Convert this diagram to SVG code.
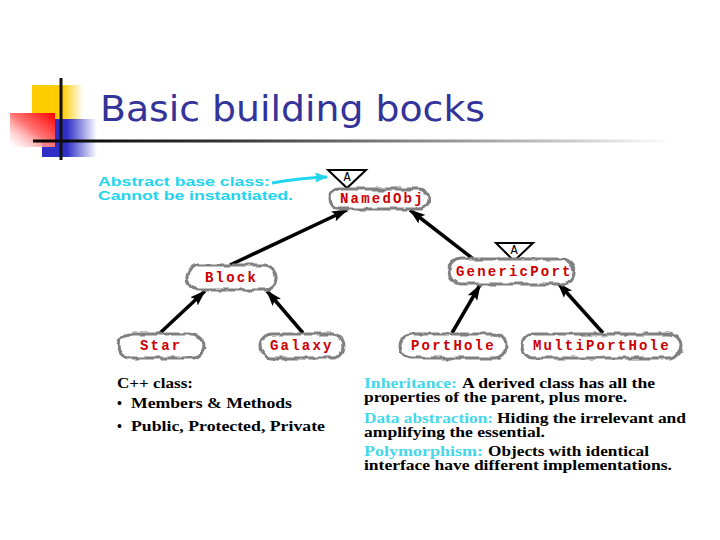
<svg xmlns="http://www.w3.org/2000/svg" width="720" height="540" viewBox="0 0 720 540">
<style>
.blob{fill:#fff;stroke:#808080;stroke-width:3;filter:url(#wob)}
.lbl{font-family:"Liberation Mono","Courier New",monospace;font-weight:bold;font-size:14px;letter-spacing:2.2px;fill:#cc0000}
.tri{fill:#fff;stroke:#000;stroke-width:2}
.tria{font-family:"Liberation Mono",monospace;font-size:12px;fill:#000;text-anchor:middle}
.conn{stroke:#000;stroke-width:3.5;fill:none;marker-end:url(#ah)}
.note{font-family:"Liberation Serif","Times New Roman",serif;font-weight:bold;font-size:14px;fill:#000}
.cy{fill:#44d8ea}
.abs{font-family:"Liberation Sans",Arial,sans-serif;font-weight:bold;font-size:13px;fill:#22d4ee}
</style>
<defs>
<filter id="wob" x="-15%" y="-40%" width="130%" height="180%">
<feTurbulence type="fractalNoise" baseFrequency="0.09" numOctaves="2" seed="4"/>
<feDisplacementMap in="SourceGraphic" scale="5" xChannelSelector="R" yChannelSelector="G"/>
</filter>
<marker id="ah" markerUnits="userSpaceOnUse" markerWidth="17" markerHeight="12" refX="15" refY="6" orient="auto">
<path d="M0,0.5 L16,6 L0,11.5 L3,6 z" fill="#000"/>
</marker>
<marker id="ahc" markerUnits="userSpaceOnUse" markerWidth="14" markerHeight="10" refX="12" refY="5" orient="auto">
<path d="M0,0 L13,5 L0,10 L2,5 z" fill="#22d4ee"/>
</marker>
<linearGradient id="gy" x1="0" y1="0" x2="1" y2="0">
<stop offset="0" stop-color="#ffcc00"/><stop offset="0.6" stop-color="#ffcc00"/><stop offset="1" stop-color="#ffcc00" stop-opacity="0"/>
</linearGradient>
<linearGradient id="gb" x1="0" y1="0" x2="1" y2="0">
<stop offset="0" stop-color="#2f2fc8"/><stop offset="0.45" stop-color="#2f2fc8"/><stop offset="1" stop-color="#2f2fc8" stop-opacity="0"/>
</linearGradient>
<linearGradient id="gr" x1="1" y1="0" x2="0" y2="1">
<stop offset="0" stop-color="#ff0000"/><stop offset="0.5" stop-color="#ff7777"/><stop offset="1" stop-color="#ffffff" stop-opacity="0.4"/>
</linearGradient>
<linearGradient id="gl" gradientUnits="userSpaceOnUse" x1="33" y1="0" x2="670" y2="0">
<stop offset="0" stop-color="#000"/><stop offset="0.3" stop-color="#333"/><stop offset="0.6" stop-color="#888"/><stop offset="0.85" stop-color="#ccc"/><stop offset="1" stop-color="#fff"/>
</linearGradient>
</defs>
<rect width="720" height="540" fill="#fff"/>

<g id="title">
<rect x="32" y="85" width="51" height="35" fill="url(#gy)"/>
<rect x="42" y="119" width="55" height="38" fill="url(#gb)"/>
<rect x="10" y="113" width="45" height="34" fill="url(#gr)"/>
<rect x="33" y="139.5" width="637" height="3" fill="url(#gl)"/>
<rect x="59.5" y="78" width="3" height="82" fill="#111"/>
<text x="100" y="121" font-family="DejaVu Sans, Tahoma, sans-serif" font-size="36" fill="#333399" textLength="385" lengthAdjust="spacingAndGlyphs">Basic building bocks</text>
</g>

<g id="abstract-note">
<text class="abs" x="98" y="186" textLength="172" lengthAdjust="spacingAndGlyphs">Abstract base class:</text>
<text class="abs" x="98" y="200" textLength="195" lengthAdjust="spacingAndGlyphs">Cannot be instantiated.</text>
<path d="M272,183 Q300,178 327,177" stroke="#22d4ee" stroke-width="3" fill="none" marker-end="url(#ahc)"/>
</g>

<g id="connectors">
<line class="conn" x1="230" y1="265" x2="347" y2="210"/>
<line class="conn" x1="472" y1="258" x2="410" y2="210"/>
<line class="conn" x1="160" y1="333" x2="205" y2="291"/>
<line class="conn" x1="303" y1="333" x2="267" y2="291"/>
<line class="conn" x1="452" y1="333" x2="480" y2="285"/>
<line class="conn" x1="603" y1="333" x2="558" y2="283"/>
</g>

<g id="NamedObj">
<path class="tri" d="M328,170 L366,170 L347,188 z"/>
<text class="tria" x="347" y="181">A</text>
<rect class="blob" x="329" y="189" width="100" height="20" rx="10"/>
<text class="lbl" x="340" y="203">NamedObj</text>
</g>

<g id="Block">
<rect class="blob" x="187" y="265" width="89" height="25" rx="12"/>
<text class="lbl" x="205" y="282">Block</text>
</g>

<g id="GenericPort">
<path class="tri" d="M496,243 L533,243 L514,261 z"/>
<text class="tria" x="514" y="254">A</text>
<rect class="blob" x="449" y="259" width="125" height="25" rx="12"/>
<text class="lbl" x="456" y="276">GenericPort</text>
</g>

<g id="Star">
<rect class="blob" x="118" y="334" width="86" height="24" rx="12"/>
<text class="lbl" x="140" y="350">Star</text>
</g>

<g id="Galaxy">
<rect class="blob" x="260" y="334" width="84" height="24" rx="12"/>
<text class="lbl" x="270" y="350">Galaxy</text>
</g>

<g id="PortHole">
<rect class="blob" x="400" y="334" width="106" height="24" rx="12"/>
<text class="lbl" x="411" y="350">PortHole</text>
</g>

<g id="MultiPortHole">
<rect class="blob" x="522" y="334" width="159" height="24" rx="12"/>
<text class="lbl" x="533" y="350">MultiPortHole</text>
</g>

<g id="cpp-note">
<text class="note" x="117" y="388" textLength="76" lengthAdjust="spacingAndGlyphs">C++ class:</text>
<text class="note" x="117" y="408">•</text>
<text class="note" x="131" y="408" textLength="161" lengthAdjust="spacingAndGlyphs">Members &amp; Methods</text>
<text class="note" x="117" y="431">•</text>
<text class="note" x="131" y="431" textLength="194" lengthAdjust="spacingAndGlyphs">Public, Protected, Private</text>
</g>

<g id="concepts-note">
<text class="note cy" x="364" y="388" textLength="93" lengthAdjust="spacingAndGlyphs">Inheritance:</text>
<text class="note" x="462" y="388" textLength="193" lengthAdjust="spacingAndGlyphs">A derived class has all the</text>
<text class="note" x="364" y="402" textLength="263" lengthAdjust="spacingAndGlyphs">properties of the parent, plus more.</text>
<text class="note cy" x="364" y="423" textLength="129" lengthAdjust="spacingAndGlyphs">Data abstraction:</text>
<text class="note" x="497" y="423" textLength="189" lengthAdjust="spacingAndGlyphs">Hiding the irrelevant and</text>
<text class="note" x="364" y="437" textLength="181" lengthAdjust="spacingAndGlyphs">amplifying the essential.</text>
<text class="note cy" x="364" y="456" textLength="119" lengthAdjust="spacingAndGlyphs">Polymorphism:</text>
<text class="note" x="488" y="456" textLength="161" lengthAdjust="spacingAndGlyphs">Objects with identical</text>
<text class="note" x="364" y="470" textLength="308" lengthAdjust="spacingAndGlyphs">interface have different implementations.</text>
</g>
</svg>
